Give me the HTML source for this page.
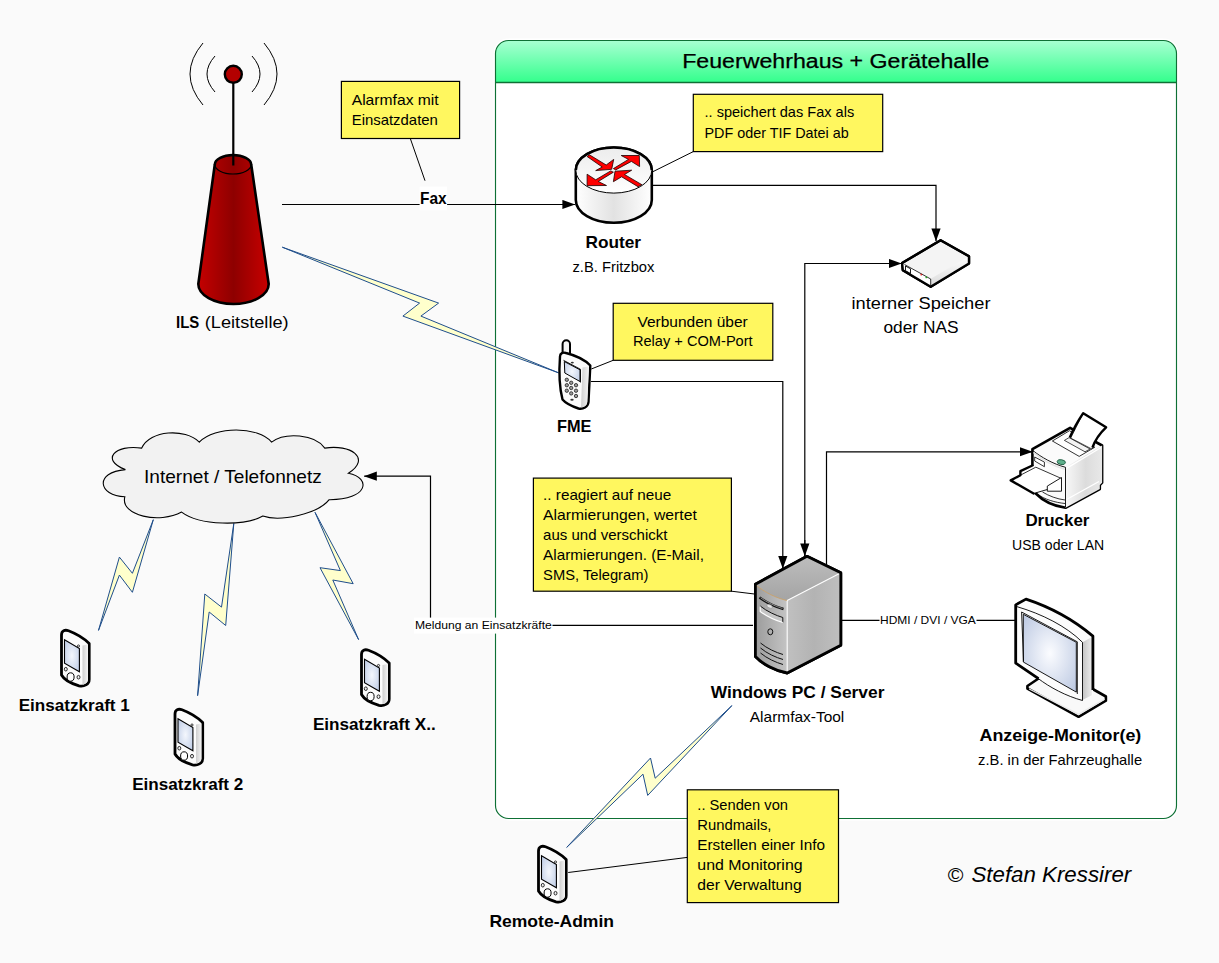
<!DOCTYPE html>
<html><head><meta charset="utf-8"><title>Alarmfax Netzwerk</title>
<style>
html,body{margin:0;padding:0;background:#fafafa;}
body{width:1219px;height:963px;overflow:hidden;font-family:"Liberation Sans",sans-serif;}
svg{display:block;}
text{font-family:"Liberation Sans",sans-serif;fill:#000;}
.b{font-weight:bold;}
.ln{stroke:#000;stroke-width:1.2;fill:none;}
.co{stroke:#000;stroke-width:1;fill:none;}
.yb{fill:#fff75f;stroke:#000;stroke-width:1.2;}
.bolt{fill:#ffffcc;stroke:#1f4e8c;stroke-width:1;stroke-linejoin:miter;}
</style></head>
<body>
<svg width="1219" height="963" viewBox="0 0 1219 963">
<defs>
<linearGradient id="hdr" x1="0" y1="0" x2="0" y2="1"><stop offset="0" stop-color="#a8ffd2"/><stop offset="1" stop-color="#33ff8c"/></linearGradient>
<marker id="ar" markerWidth="14" markerHeight="10" refX="12.6" refY="5" orient="auto" markerUnits="userSpaceOnUse"><path d="M0,0.4 L12.8,5 L0,9.6 Z" fill="#000"/></marker>
<linearGradient id="twr" x1="0" y1="0" x2="1" y2="0"><stop offset="0" stop-color="#c40000"/><stop offset="0.5" stop-color="#8e0000"/><stop offset="1" stop-color="#c80000"/></linearGradient>
<linearGradient id="cyl" x1="0" y1="0" x2="1" y2="0"><stop offset="0" stop-color="#ffffff"/><stop offset="0.5" stop-color="#e2e2e2"/><stop offset="1" stop-color="#ffffff"/></linearGradient>
<linearGradient id="cyltop" x1="0" y1="0" x2="0" y2="1"><stop offset="0" stop-color="#ececec"/><stop offset="1" stop-color="#ffffff"/></linearGradient>
<linearGradient id="nasside" x1="0" y1="0" x2="0" y2="1"><stop offset="0" stop-color="#ffffff"/><stop offset="1" stop-color="#d9d9d9"/></linearGradient>
<linearGradient id="phside" x1="0" y1="0" x2="1" y2="0"><stop offset="0" stop-color="#cfcfcf"/><stop offset="1" stop-color="#f4f4f4"/></linearGradient>
<radialGradient id="scr" cx="0.5" cy="0.5" r="0.6"><stop offset="0" stop-color="#f4f7fd"/><stop offset="1" stop-color="#c3d0e8"/></radialGradient>
<radialGradient id="scr2" cx="0.5" cy="0.5" r="0.65"><stop offset="0" stop-color="#fbfcff"/><stop offset="1" stop-color="#bfcbe3"/></radialGradient>
<linearGradient id="pcside" x1="0" y1="0" x2="1" y2="0"><stop offset="0" stop-color="#c0c0c0"/><stop offset="0.5" stop-color="#b3b3b3"/><stop offset="1" stop-color="#bfbfbf"/></linearGradient>
<linearGradient id="pcfront" x1="0" y1="0" x2="1" y2="0"><stop offset="0" stop-color="#9c9c9c"/><stop offset="1" stop-color="#c4c4c4"/></linearGradient>
<linearGradient id="pctop" x1="0" y1="0" x2="0" y2="1"><stop offset="0" stop-color="#bdbdbd"/><stop offset="1" stop-color="#a4a4a4"/></linearGradient>
<linearGradient id="prside" x1="0" y1="0" x2="1" y2="0"><stop offset="0" stop-color="#f8f8f8"/><stop offset="0.55" stop-color="#dcdcdc"/><stop offset="1" stop-color="#e8e8e8"/></linearGradient>
<linearGradient id="monside" x1="0" y1="0" x2="1" y2="0"><stop offset="0" stop-color="#c4c4c4"/><stop offset="1" stop-color="#ededed"/></linearGradient>
<symbol id="pda" overflow="visible">
<path d="M1.500,6 C1.500,1.500 5,0.500 8.500,1.800 C17,5 24,9.500 29.200,14.500 V50.500 C29.200,55.500 24,57.800 19,56.800 C11,54.500 4,50.500 1.500,46 Z" fill="#fcfcfc" stroke="#000" stroke-width="2.800" stroke-linejoin="round"/>
<path d="M22.500,16.500 L28,15.500 V50.500 C28,53.500 25.500,55.200 22.500,55.600 Z" fill="url(#phside)"/>
<path d="M4.500,10.800 L19.400,19.600 V42.800 L4.500,34.300 Z" fill="url(#scr)" stroke="#000" stroke-width="1.100"/>
<circle cx="18.500" cy="17" r="1.100" fill="#eee" stroke="#000" stroke-width="0.7"/>
<ellipse cx="10.600" cy="48" rx="3.500" ry="4.200" fill="#fff" stroke="#000" stroke-width="1"/>
<ellipse cx="5.800" cy="40.200" rx="1.500" ry="1.800" fill="#eee" stroke="#000" stroke-width="0.8"/>
<ellipse cx="18.500" cy="48.200" rx="1.500" ry="1.800" fill="#eee" stroke="#000" stroke-width="0.8"/>
</symbol>
</defs>
<rect x="0" y="0" width="1219" height="963" fill="#fafafa"/>

<!-- CONTAINER -->
<g id="container">
<rect x="495.5" y="40.5" width="681" height="778" rx="13" ry="13" fill="#fff" stroke="#fff" stroke-width="4"/>
<path d="M495.5,82.5 V53.5 a13,13 0 0 1 13,-13 H1163.5 a13,13 0 0 1 13,13 V82.5 Z" fill="url(#hdr)"/>
<rect x="495.5" y="40.5" width="681" height="778" rx="13" ry="13" fill="none" stroke="#0e7035" stroke-width="1.15"/>
<line x1="495.5" y1="82.5" x2="1176.5" y2="82.5" stroke="#0e7035" stroke-width="1.5"/>
<text x="682.2" y="67.6" font-size="20" textLength="307.2" lengthAdjust="spacingAndGlyphs" stroke="#000" stroke-width="0.25">Feuerwehrhaus + Gerätehalle</text>
</g>

<!-- LINES -->
<g id="lines">
<path class="ln" d="M282,204.5 H575" marker-end="url(#ar)"/>
<path class="ln" d="M652,185.3 H936 V241" marker-end="url(#ar)"/>
<path class="ln" d="M591,381.5 H782.8 V568.5" marker-end="url(#ar)"/>
<path class="ln" d="M804.8,556 V263.5 H901.5" marker-end="url(#ar)"/>
<path class="ln" d="M804.8,540 V556" marker-end="url(#ar)"/>
<path class="ln" d="M826.5,564.5 V451.8 H1032.5" marker-end="url(#ar)"/>
<path class="ln" d="M753,625.3 H430.5 V476.2 H364.2" marker-end="url(#ar)"/>
<path class="ln" d="M841,620.4 H1015"/>
</g>

<!-- CALLOUT LINES -->
<g id="callouts">
<line class="co" x1="410.3" y1="138.5" x2="425" y2="180.7"/>
<line class="co" x1="693.3" y1="151.6" x2="652.9" y2="171.7"/>
<line class="co" x1="613.2" y1="360.3" x2="591.3" y2="369"/>
<line class="co" x1="731.4" y1="591.2" x2="754.4" y2="594"/>
<line class="co" x1="687.3" y1="857.4" x2="568.2" y2="872.5"/>
</g>

<!-- BOLTS -->
<g id="bolts">
<path class="bolt" d="M282.3,247.2 L438.6,303.1 L420.9,316.1 L558.5,372.8 L402.9,316.1 L419.6,303.1 Z"/>
<path class="bolt" d="M153.3,519.7 L132.4,573.3 L119.4,557.1 L98.5,630.4 L119.4,575.1 L132.4,592.3 Z"/>
<path class="bolt" d="M233.8,523.4 L221.5,607.1 L204.8,594 L197.6,695.7 L209.2,612 L225.7,625.5 Z"/>
<path class="bolt" d="M315,512.3 L340.4,570.6 L320,567.7 L358.6,639.6 L332.8,580 L353.2,583.7 Z"/>
<path class="bolt" d="M731.9,705.6 L655.2,778.2 L650.5,758 L566.7,847.4 L643,774.2 L647.7,795.4 Z"/>
</g>

<!-- YELLOW BOXES -->
<g id="yboxes" font-size="14.6">
<rect class="yb" x="341.4" y="81.4" width="118.2" height="57.1"/>
<text x="351.7" y="104.9" textLength="87" lengthAdjust="spacingAndGlyphs">Alarmfax mit</text>
<text x="351.7" y="124.9" textLength="86.2" lengthAdjust="spacingAndGlyphs">Einsatzdaten</text>

<rect class="yb" x="693.3" y="94.3" width="189.4" height="57.3"/>
<text x="704.5" y="117.4" textLength="149.7" lengthAdjust="spacingAndGlyphs">.. speichert das Fax als</text>
<text x="704.5" y="137.5" textLength="144.2" lengthAdjust="spacingAndGlyphs">PDF oder TIF Datei ab</text>

<rect class="yb" x="613.2" y="303.3" width="159.6" height="57"/>
<text x="637.4" y="326.7" textLength="110.4" lengthAdjust="spacingAndGlyphs">Verbunden über</text>
<text x="632.9" y="346.2" textLength="119.8" lengthAdjust="spacingAndGlyphs">Relay + COM-Port</text>

<rect class="yb" x="533.4" y="478.1" width="198" height="113.1"/>
<text x="543.1" y="499.5" textLength="128.1" lengthAdjust="spacingAndGlyphs">.. reagiert auf neue</text>
<text x="543.1" y="519.6" textLength="153.7" lengthAdjust="spacingAndGlyphs">Alarmierungen, wertet</text>
<text x="543.1" y="539.9" textLength="124.4" lengthAdjust="spacingAndGlyphs">aus und verschickt</text>
<text x="543.1" y="560.2" textLength="160.8" lengthAdjust="spacingAndGlyphs">Alarmierungen. (E-Mail,</text>
<text x="543.1" y="580.1" textLength="105.3" lengthAdjust="spacingAndGlyphs">SMS, Telegram)</text>

<rect class="yb" x="687.3" y="789.8" width="151.2" height="112.8"/>
<text x="697.3" y="810.4" textLength="90.7" lengthAdjust="spacingAndGlyphs">.. Senden von</text>
<text x="697.3" y="830.1" textLength="74.2" lengthAdjust="spacingAndGlyphs">Rundmails,</text>
<text x="697.3" y="850.0" textLength="127.7" lengthAdjust="spacingAndGlyphs">Erstellen einer Info</text>
<text x="697.3" y="870.3" textLength="105.3" lengthAdjust="spacingAndGlyphs">und Monitoring</text>
<text x="697.3" y="889.9" textLength="104.4" lengthAdjust="spacingAndGlyphs">der Verwaltung</text>
</g>

<!-- Cloud -->
<g id="cloud">
<path d="M141.7,448.1 C150,430 185,428 199.3,442.1 C215,426 258,426 271.600,442.1 C285,432 315,434 324.800,448.1 C350,444 372,458 348.400,473.200 C372,478 368,500 329.200,499.700 C318,514 280,522 262.800,516 C245,526 200,526 181.600,512.100 C160,524 120,516 124.800,496.800 C98,496 94,472 125.400,469.600 C100,460 115,444 141.7,448.1 Z" fill="#f2f2f2" stroke="#000" stroke-width="1.1"/>
</g>
<!-- LABELS -->
<g id="labels">
<rect x="419.6" y="186.6" width="27.5" height="23.6" fill="#fff"/>
<text class="b" x="420" y="204.4" font-size="16.4" textLength="26.6" lengthAdjust="spacingAndGlyphs">Fax</text>
<text class="b" x="176" y="328.3" font-size="16.4" textLength="23.2" lengthAdjust="spacingAndGlyphs">ILS</text>
<text x="204.8" y="328.3" font-size="16.6" textLength="83.8" lengthAdjust="spacingAndGlyphs">(Leitstelle)</text>
<text class="b" x="585.5" y="247.5" font-size="16.4" textLength="55.6" lengthAdjust="spacingAndGlyphs">Router</text>
<text x="572.5" y="271.7" font-size="14.6" textLength="81.9" lengthAdjust="spacingAndGlyphs">z.B. Fritzbox</text>
<text x="851.5" y="308.9" font-size="16.6" textLength="139" lengthAdjust="spacingAndGlyphs">interner Speicher</text>
<text x="883.5" y="332.5" font-size="16.6" textLength="75" lengthAdjust="spacingAndGlyphs">oder NAS</text>
<text class="b" x="557" y="432.2" font-size="16.4" textLength="34.5" lengthAdjust="spacingAndGlyphs">FME</text>
<text x="144" y="482.5" font-size="18.6" textLength="177.8" lengthAdjust="spacingAndGlyphs">Internet / Telefonnetz</text>
<text class="b" x="1025.4" y="525.8" font-size="16.4" textLength="64" lengthAdjust="spacingAndGlyphs">Drucker</text>
<text x="1012" y="549.8" font-size="14.6" textLength="92.2" lengthAdjust="spacingAndGlyphs">USB oder LAN</text>
<rect x="414" y="617.6" width="138.5" height="16" fill="#fff"/>
<text x="414.9" y="628.5" font-size="11.2" textLength="136.9" lengthAdjust="spacingAndGlyphs">Meldung an Einsatzkräfte</text>
<rect x="879.5" y="612" width="97" height="15" fill="#fff"/>
<text x="880.1" y="623.7" font-size="10.8" textLength="95.7" lengthAdjust="spacingAndGlyphs">HDMI / DVI / VGA</text>
<text class="b" x="710.8" y="697.7" font-size="16.4" textLength="173.6" lengthAdjust="spacingAndGlyphs">Windows PC / Server</text>
<text x="749.8" y="721.5" font-size="14.6" textLength="94.5" lengthAdjust="spacingAndGlyphs">Alarmfax-Tool</text>
<text class="b" x="979.5" y="741.1" font-size="16.4" textLength="161.8" lengthAdjust="spacingAndGlyphs">Anzeige-Monitor(e)</text>
<text x="978.1" y="765.4" font-size="14.6" textLength="164" lengthAdjust="spacingAndGlyphs">z.B. in der Fahrzeughalle</text>
<text class="b" x="18.7" y="710.6" font-size="16.4" textLength="111.1" lengthAdjust="spacingAndGlyphs">Einsatzkraft 1</text>
<text class="b" x="132.2" y="789.5" font-size="16.4" textLength="111.1" lengthAdjust="spacingAndGlyphs">Einsatzkraft 2</text>
<text class="b" x="312.9" y="729.5" font-size="16.4" textLength="122.8" lengthAdjust="spacingAndGlyphs">Einsatzkraft X..</text>
<text class="b" x="489.4" y="926.8" font-size="16.4" textLength="124.6" lengthAdjust="spacingAndGlyphs">Remote-Admin</text>
<text x="947.7" y="881.9" font-size="21" textLength="15.7" lengthAdjust="spacingAndGlyphs">©</text>
<text x="971.5" y="881.9" font-size="21.5" font-style="italic" textLength="159.7" lengthAdjust="spacingAndGlyphs">Stefan Kressirer</text>
</g>

<!-- ICONS -->
<g id="icons">
<!-- ILS tower -->
<g id="ils">
<path d="M214.8,164.5 L198.3,284 A35.2,20 0 0 0 268.7,284 L251.2,164.5 A18.2,9.5 0 0 0 214.8,164.5 Z" fill="url(#twr)" stroke="#000" stroke-width="2.6" stroke-linejoin="round"/>
<path d="M214.8,164.5 A18.2,9.5 0 0 0 251.2,164.5" fill="none" stroke="#000" stroke-width="1.2"/>
<line x1="233.3" y1="75" x2="233.3" y2="165.5" stroke="#000" stroke-width="2.2"/>
<circle cx="233.3" cy="74.3" r="8.5" fill="#b30000" stroke="#000" stroke-width="2.4"/>
<path d="M203,43 Q177,74 203,105 M264,43 Q290,74 264,105 M215,56 Q199,74 215,92 M252,56 Q268,74 252,92" fill="none" stroke="#000" stroke-width="1"/>
</g>
<!-- Router -->
<g id="router">
<path d="M575.8,170.3 A38,22.8 0 0 1 651.8,170.3 V200 A38,22.8 0 0 1 575.8,200 Z" fill="url(#cyl)" stroke="#000" stroke-width="2.6"/>
<ellipse cx="613.8" cy="170.3" rx="38" ry="22.8" fill="url(#cyltop)" stroke="none"/>
<path d="M575.8,170.3 A38,22.8 0 0 0 651.8,170.3" fill="none" stroke="#000" stroke-width="1"/>
<path d="M575.8,170.3 A38,22.8 0 0 1 651.8,170.3" fill="none" stroke="#000" stroke-width="2.6"/>
<g fill="#fe0000" stroke="#1a0000" stroke-width="0.8" stroke-linejoin="miter">
<path d="M589.4,154.8 L606.2,165 L613.7,159.4 L611.7,169.3 L595.7,170.6 L602.2,167 L587.1,156.5 Z"/>
<path d="M613.4,168.6 L628.5,159.4 L621.2,155.5 L639.3,155.5 L639.6,166.6 L631.4,161.4 L615.7,169.9 Z"/>
<path d="M610.7,170.9 L595.7,179.8 L587.1,174.2 L587.1,185.700 L606.5,185.500 L598.300,181.500 L613.4,172.200 Z"/>
<path d="M641.9,184.700 L624.5,174.500 L631.700,170.200 L615,171.200 L613.4,181.700 L621.600,176.800 L638,186.700 Z"/>
</g>
</g>
<!-- NAS -->
<g id="nas">
<path d="M940.6,240.300 L969,256.2 V263.5 L930.7,286.8 L902.8,270.2 L902.100,263 Z" fill="#f4f4f4" stroke="#000" stroke-width="2.4" stroke-linejoin="round"/>
<path d="M930.7,278.700 L969,256.2 V263.5 L930.7,286.8 Z" fill="url(#nasside)"/>
<path d="M902.100,263 L930.7,278.700 V286.8 L902.8,270.2 Z" fill="#fff"/>
<path d="M904.500,264.500 L930.7,279 V285.5" fill="none" stroke="#000" stroke-width="0.8"/>
<path d="M905.500,266 L910.500,268.800 V273.500 L905.500,270.700 Z" fill="#fff" stroke="#000" stroke-width="0.9"/>
<rect x="920.5" y="273.800" width="1.6" height="1.6" fill="#d22"/>
<rect x="925.5" y="276.600" width="1.6" height="1.6" fill="#2a2"/>
<path d="M940.6,240.300 L969,256.2 V263.5 L930.7,286.8 L902.8,270.2 L902.100,263 Z" fill="none" stroke="#000" stroke-width="2.4" stroke-linejoin="round"/>
</g>

<!-- FME phone -->
<g id="fme">
<path d="M562.600,355 V344 a3.700,3.700 0 0 1 7.400,0 V356" fill="#f4f4f4" stroke="#000" stroke-width="2"/>
<path d="M560,356.500 C560,353 563,352 566,353 C576,355.500 585,360 590.300,365.500 L588.500,402 C588,407 583,409.500 578.500,408.500 C571,406 565,402.500 562.500,399.500 C559.500,388 559,370 560,356.500 Z" fill="#fbfbfb" stroke="#000" stroke-width="2.4" stroke-linejoin="round"/>
<path d="M582.500,367.500 L588.800,366.500 L587.200,402 C587,405.500 584,407 581,407.300 Z" fill="url(#phside)"/>
<path d="M564.300,361.500 L580,369.800 V381.500 L564.800,373 Z" fill="url(#scr)" stroke="#000" stroke-width="1"/>
<path d="M563.500,360.300 L580.500,369.300 V382.500" fill="none" stroke="#000" stroke-width="0.9"/>
<ellipse cx="572.3" cy="362.6" rx="1.5" ry="0.9" fill="#333"/>
<g fill="#999" stroke="#222" stroke-width="0.8">
<circle cx="566.8" cy="379.800" r="1.700"/><circle cx="571.200" cy="382.800" r="1.700"/><circle cx="576" cy="385.200" r="1.700"/>
<circle cx="566.8" cy="385.200" r="1.700"/><circle cx="571.200" cy="388" r="1.700"/><circle cx="576" cy="390.700" r="1.700"/>
<circle cx="566.8" cy="390.700" r="1.700"/><circle cx="571.200" cy="393.400" r="1.700"/><circle cx="576" cy="396" r="1.700"/>
</g>
<ellipse cx="572" cy="399.800" rx="1.700" ry="1" fill="#333"/>
</g>
<!-- Server PC -->
<g id="pc">
<path d="M807,556.3 L840.8,572.800 V645.2 L787.2,673 C775,670.800 762.500,664 755.400,656.500 V584.200 Z" fill="#b4b4b4" stroke="#000" stroke-width="2.800" stroke-linejoin="round"/>
<path d="M787.2,600.600 L840.8,572.800 V645.2 L787.2,673 Z" fill="url(#pcside)"/>
<path d="M755.400,584.200 C764,592 776,598 787.2,600.600 V673 C775,670.800 762.500,664 755.400,656.500 Z" fill="url(#pcfront)"/>
<path d="M807,556.3 L840.8,572.800 L787.2,600.600 C776,598 764,592 755.400,584.200 Z" fill="url(#pctop)"/>
<path d="M756,585 C764,592 776,598 787.2,600.600" fill="none" stroke="#c9a26a" stroke-width="0.9"/>
<path d="M787.2,600.600 L839.500,573.500 M787.2,600.600 V672.500" fill="none" stroke="#fff" stroke-width="1.100"/>
<path d="M759.500,597.500 C767,603 776,607 783.500,609" fill="none" stroke="#111" stroke-width="2.400"/>
<path d="M760.500,597.800 C767,602.500 776,606.500 782.500,608.500" fill="none" stroke="#bbb" stroke-width="0.7"/>
<ellipse cx="769.600" cy="606.300" rx="3" ry="1.600" fill="#e8e8e8" stroke="#888" stroke-width="0.5" transform="rotate(25 769.6 606.3)"/>
<path d="M760.200,606 C767,611.500 776,615.500 782.800,617.500 V622.500 C776,620.500 767,616.500 760.200,611.500 Z" fill="#c6c6c6" stroke="none"/>
<path d="M760.200,606 C767,611.500 776,615.500 782.800,617.500 V622.500" fill="none" stroke="#111" stroke-width="1"/>
<path d="M760.200,606.500 V611.500 C767,616.500 776,620.500 782.800,622.500" fill="none" stroke="#fff" stroke-width="1.100"/>
<ellipse cx="770.300" cy="631.800" rx="2.500" ry="3" fill="none" stroke="#111" stroke-width="1"/>
<path d="M760.500,643 C767,648.500 776,652.500 783,654.500 M760.500,648 C767,653.500 776,657.500 783,659.500 M760.500,653 C767,658.500 776,662.500 783,664.500" fill="none" stroke="#111" stroke-width="1"/>
<path d="M807,556.3 L840.8,572.800 V645.2 L787.2,673 C775,670.800 762.500,664 755.400,656.500 V584.200 Z" fill="none" stroke="#000" stroke-width="2.800" stroke-linejoin="round"/>
</g>
<!-- Printer -->
<g id="printer">
<path d="M1032.400,449.200 L1070.100,427.800 L1102.100,445.500 V482.700 L1099.800,485 V489 L1065.500,507.800 C1054,506 1043,501 1035.800,493.500 L1032.400,466.700 Z" fill="#fbfbfb" stroke="#000" stroke-width="2.600" stroke-linejoin="round"/>
<path d="M1065.500,467.300 L1102.100,445.500 V482.700 L1099.800,485 V489 L1065.500,507.800 Z" fill="url(#prside)"/>
<path d="M1033,450.700 C1041,457 1053,464 1065.500,467.300 V507" fill="none" stroke="#000" stroke-width="0.9"/>
<path d="M1033.500,452.500 C1041,459 1053,466 1065,469.300" fill="none" stroke="#e4e4e4" stroke-width="1.600"/>
<path d="M1066.500,468.300 L1101,447.500 M1066.500,499.500 L1099,481.500" fill="none" stroke="#fff" stroke-width="1.400"/>
<path d="M1052.400,441 L1069.500,430.700 L1094.700,447.300 L1079.200,456.400 Z" fill="#fff" stroke="#000" stroke-width="0.8"/>
<path d="M1064.400,440.400 L1069,437.600 L1090.100,449 L1085,451.800 Z" fill="#f4f4f4" stroke="#000" stroke-width="0.7"/>
<path d="M1070.700,438.100 L1083.200,413.200 L1106.100,427.300 C1099,434 1094.500,441 1091.800,449 Z" fill="#fff" stroke="#000" stroke-width="0.7"/>
<path d="M1069.800,437.500 C1073,430 1078,421 1083.200,413.200 L1106.100,427.300 C1099.500,433.500 1095,440 1092.500,447.500" fill="none" stroke="#000" stroke-width="2.400" stroke-linejoin="round"/>
<ellipse cx="1061.300" cy="462.100" rx="4.200" ry="2.400" fill="#5fb08c" stroke="#17573a" stroke-width="0.8" transform="rotate(10 1061.3 462.1)"/>
<path d="M1034.700,457 L1044.400,462.100 V466.700 L1034.700,461 Z" fill="#fff" stroke="#000" stroke-width="0.8"/>
<!-- tray -->
<path d="M1032.400,465.500 L1020.400,471.200 V475.200 L1010.700,480.400 L1033.600,493.500 L1046.700,489.500 L1061.500,477.500 L1035.800,467.200 Z" fill="#fff" stroke="none"/>
<path d="M1035.800,467.200 L1061.500,478.500" fill="none" stroke="#000" stroke-width="0.8"/>
<path d="M1020.400,475.200 L1035.800,467.200" fill="none" stroke="#000" stroke-width="0.8"/>
<path d="M1047.300,486.100 L1061.500,477.500 V491.200 H1047.300 Z" fill="#fff" stroke="#000" stroke-width="0.9"/>
<path d="M1033.600,493.500 L1047.300,489.500" fill="none" stroke="#000" stroke-width="0.9"/>
<path d="M1032.400,465.500 L1020.400,471.200 V475.200 L1010.700,480.400 L1033.600,493.500" fill="none" stroke="#000" stroke-width="2.400" stroke-linejoin="round" stroke-linecap="round"/>
<path d="M1036.500,493.800 C1045,499.500 1055,502.500 1065,503.500 M1042.500,492 C1049,496 1057,499 1065,500" fill="none" stroke="#000" stroke-width="0.8"/>
</g>
<!-- Monitor -->
<g id="monitor">
<path d="M1040,677.500 L1027.400,686 V688.500 L1078.600,716.800 L1105.900,700.700 V696.500 L1090,687.500 Z" fill="#f9f9f9" stroke="#000" stroke-width="2.600" stroke-linejoin="round"/>
<path d="M1029,688.200 L1078.600,713.600 L1104.500,698.600 V700 L1078.600,715.300 L1029,689.600 Z" fill="#e9e9e9"/>
<path d="M1015.700,604.900 L1026,599.100 C1050,607 1075,621 1092.900,636.100 V695.300 L1082.500,700.500 C1066,696 1050,687.500 1037.900,678.300 L1015.700,663.100 Z" fill="#fcfcfc" stroke="none"/>
<path d="M1082.500,642.300 L1092,637 V695.300 L1082.500,700 Z" fill="url(#monside)"/>
<path d="M1016.500,606.500 C1042,614 1066,626 1082.500,642.300 V700.500" fill="none" stroke="#000" stroke-width="0.9"/>
<path d="M1037.900,678.300 C1050,687.500 1066,696 1082.500,700.500" fill="none" stroke="#000" stroke-width="0.9"/>
<path d="M1023.300,614.300 L1076.300,642.300 V692.100 L1023.300,662 Z" fill="url(#scr2)" stroke="#000" stroke-width="0.9"/>
<path d="M1023.500,661.500 L1021.600,612 L1077.300,641.800 V694" fill="none" stroke="#000" stroke-width="0.9"/>
<path d="M1038.500,678.700 L1015.700,663.100 V604.900 L1026,599.100 C1050,607 1075,621 1092.900,636.100 V690" fill="none" stroke="#000" stroke-width="2.800" stroke-linejoin="round"/>
</g>
<use href="#pda" x="60" y="629"/>
<use href="#pda" x="173.500" y="708"/>
<use href="#pda" x="360" y="648.500"/>
<use href="#pda" x="537" y="845"/>
</g>
</svg>
</body></html>
